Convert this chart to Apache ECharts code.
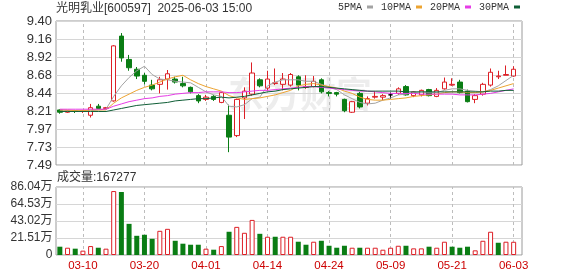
<!DOCTYPE html>
<html>
<head>
<meta charset="utf-8">
<script src="https://cdn.jsdelivr.net/npm/echarts/dist/echarts.min.js"></script>
<style>html,body{margin:0;padding:0;background:#fff}#c{width:578px;height:276px}</style>
</head>
<body>
<div id="c"></div>
<script>
const dates = ['03-05','03-06','03-07','03-10','03-11','03-12','03-13','03-14','03-17','03-18','03-19','03-20','03-21','03-24','03-25','03-26','03-27','03-28','03-31','04-01','04-02','04-03','04-07','04-08','04-09','04-10','04-11','04-14','04-15','04-16','04-17','04-18','04-21','04-22','04-23','04-24','04-25','04-28','04-29','04-30','05-06','05-07','05-08','05-09','05-12','05-13','05-14','05-15','05-16','05-19','05-20','05-21','05-22','05-23','05-26','05-27','05-28','05-29','05-30','06-03'];
const opens  = [8.22,8.19,8.21,8.20,8.15,8.27,8.24,8.34,9.20,8.89,8.76,8.68,8.55,8.56,8.63,8.63,8.57,8.52,8.41,8.36,8.40,8.32,8.15,7.88,8.38,8.43,8.62,8.51,8.57,8.56,8.55,8.66,8.52,8.53,8.62,8.45,8.45,8.36,8.19,8.44,8.31,8.39,8.39,8.42,8.44,8.53,8.41,8.42,8.49,8.40,8.50,8.55,8.59,8.47,8.36,8.43,8.55,8.66,8.68,8.67];
const closes = [8.19,8.21,8.20,8.21,8.25,8.24,8.25,9.07,8.91,8.78,8.67,8.60,8.50,8.62,8.70,8.59,8.54,8.46,8.34,8.39,8.36,8.45,7.86,8.36,8.47,8.71,8.54,8.63,8.58,8.63,8.69,8.55,8.53,8.60,8.46,8.44,8.43,8.21,8.33,8.26,8.37,8.40,8.41,8.42,8.50,8.42,8.46,8.48,8.41,8.48,8.59,8.56,8.45,8.33,8.41,8.56,8.72,8.67,8.69,8.76];
const lows   = [8.17,8.18,8.18,8.18,8.12,8.23,8.23,8.33,8.86,8.74,8.63,8.56,8.48,8.44,8.49,8.57,8.52,8.44,8.31,8.34,8.34,8.31,7.66,7.86,8.10,8.41,8.52,8.48,8.55,8.48,8.53,8.48,8.50,8.52,8.44,8.40,8.40,8.19,8.18,8.24,8.28,8.37,8.35,8.37,8.42,8.41,8.39,8.40,8.40,8.39,8.49,8.54,8.44,8.32,8.31,8.41,8.53,8.63,8.68,8.66];
const highs  = [8.23,8.22,8.22,8.22,8.30,8.30,8.26,9.08,9.24,8.95,8.79,8.71,8.62,8.66,8.75,8.66,8.66,8.53,8.43,8.42,8.42,8.46,8.29,8.37,8.52,8.85,8.64,8.74,8.77,8.71,8.71,8.68,8.68,8.67,8.64,8.47,8.46,8.37,8.34,8.46,8.40,8.47,8.43,8.45,8.52,8.55,8.47,8.49,8.50,8.51,8.65,8.64,8.62,8.49,8.43,8.58,8.77,8.74,8.81,8.80];
const volumes = [105000,92000,80000,55000,113000,92000,80000,809000,797000,394000,243000,256000,205000,306000,331000,180000,143000,130000,130000,80000,67000,113000,294000,356000,281000,444000,268000,231000,231000,231000,231000,168000,130000,168000,180000,117000,92000,117000,92000,92000,92000,92000,67000,92000,117000,117000,84000,84000,105000,92000,168000,105000,92000,105000,59000,180000,294000,155000,168000,167277];
const ma5  = [8.22,8.21,8.21,8.21,8.21,8.22,8.23,8.40,8.54,8.65,8.74,8.80,8.69,8.63,8.62,8.60,8.59,8.58,8.52,8.46,8.42,8.40,8.27,8.26,8.29,8.37,8.39,8.54,8.59,8.62,8.62,8.62,8.60,8.60,8.56,8.52,8.49,8.42,8.37,8.32,8.30,8.31,8.35,8.38,8.42,8.43,8.45,8.46,8.45,8.45,8.48,8.50,8.50,8.48,8.47,8.46,8.49,8.54,8.61,8.68];
const ma10 = [8.22,8.22,8.21,8.21,8.22,8.22,8.22,8.31,8.38,8.43,8.48,8.52,8.55,8.59,8.63,8.66,8.68,8.62,8.57,8.53,8.50,8.47,8.41,8.38,8.36,8.37,8.38,8.40,8.42,8.45,8.48,8.54,8.56,8.57,8.55,8.53,8.51,8.47,8.44,8.39,8.36,8.35,8.35,8.36,8.37,8.38,8.40,8.41,8.42,8.43,8.45,8.46,8.46,8.45,8.45,8.46,8.48,8.51,8.54,8.57];
const ma20 = [8.23,8.23,8.23,8.23,8.23,8.23,8.23,8.27,8.30,8.33,8.35,8.37,8.38,8.40,8.41,8.43,8.44,8.45,8.45,8.46,8.46,8.46,8.45,8.45,8.46,8.47,8.48,8.48,8.49,8.50,8.51,8.52,8.53,8.53,8.52,8.51,8.50,8.49,8.48,8.47,8.47,8.46,8.45,8.44,8.44,8.44,8.44,8.43,8.43,8.43,8.43,8.43,8.42,8.42,8.42,8.43,8.44,8.46,8.48,8.50];
const ma30 = [8.20,8.20,8.20,8.20,8.20,8.20,8.20,8.22,8.24,8.26,8.28,8.29,8.30,8.31,8.32,8.34,8.35,8.36,8.37,8.37,8.38,8.39,8.38,8.39,8.40,8.42,8.44,8.46,8.47,8.49,8.50,8.51,8.52,8.53,8.53,8.52,8.51,8.50,8.49,8.48,8.47,8.47,8.47,8.47,8.47,8.46,8.46,8.46,8.46,8.46,8.46,8.46,8.46,8.46,8.46,8.46,8.47,8.47,8.48,8.48];
const priceTicks = ['7.49','7.73','7.97','8.21','8.44','8.68','8.92','9.16','9.40'];
const volTicks = ['0','21.51万','43.02万','64.53万','86.04万'];
const dateTicks = ['03-10','03-20','04-01','04-14','04-24','05-09','05-21','06-03'];
const maNames = ['5PMA','10PMA','20PMA','30PMA'];

const RED = '#dd1f26', GREEN = '#0a7d14';
const FONT = "'Liberation Sans','Noto Sans CJK SC',sans-serif";

const kData = dates.map((d, i) => {
  const item = { value: [opens[i], closes[i], lows[i], highs[i]] };
  if (opens[i] === closes[i]) item.itemStyle = { color: '#000', color0: '#000', borderColor: '#000', borderColor0: '#000' };
  return item;
});
const volData = volumes.map((v, i) => {
  const up = i === 0 ? closes[i] >= opens[i] : closes[i] >= closes[i - 1];
  return { value: v, itemStyle: up ? { color: '#fff', borderColor: RED, borderWidth: 1 } : { color: GREEN, borderWidth: 0 } };
});
const vLines = {
  symbol: 'none', silent: true, z: 1, animation: false,
  label: { show: false },
  lineStyle: { type: [3, 3], color: '#bdbdbd', width: 1 },
  data: dateTicks.map(t => ({ xAxis: t }))
};

const chart = echarts.init(document.getElementById('c'), null, { renderer: 'canvas' });
chart.setOption({
  animation: false,
  backgroundColor: '#fff',
  title: [
    { text: '光明乳业[600597]  2025-06-03 15:00', left: 56, top: 2.5, padding: 0,
      textStyle: { fontSize: 12, fontWeight: 'normal', color: '#333', fontFamily: FONT } },
    { text: '成交量:' + volumes[volumes.length - 1], left: 57, top: 171.5, padding: 0,
      textStyle: { fontSize: 12, fontWeight: 'normal', color: '#333', fontFamily: FONT } }
  ],
  legend: {
    data: maNames, left: 338, top: 2, padding: 0, align: 'right', icon: 'rect',
    itemWidth: 6, itemHeight: 3, itemGap: 8, selectedMode: false,
    textStyle: { fontFamily: "'Liberation Mono',monospace", fontSize: 10, color: '#333' }
  },
  graphic: [{
    type: 'text', left: 228, top: 76, z: -1, silent: true,
    style: { text: '东方财富', fill: 'rgba(0,0,0,0.07)', font: "bold 36px 'Noto Sans CJK SC'" }
  }],
  grid: [
    { left: 56, top: 21, width: 461.5, height: 144 },
    { left: 56, top: 187, width: 461.5, height: 68 },
    { left: 56, top: 21, width: 466, height: 144, show: true, borderColor: '#9a9a9a', borderWidth: 1, backgroundColor: 'transparent' },
    { left: 56, top: 187, width: 466, height: 68, show: true, borderColor: '#9a9a9a', borderWidth: 1, backgroundColor: 'transparent' }
  ],
  xAxis: [
    { type: 'category', gridIndex: 0, data: dates, boundaryGap: true, axisLine: { show: false }, axisTick: { show: false }, axisLabel: { show: false }, splitLine: { show: false } },
    { type: 'category', gridIndex: 1, data: dates, boundaryGap: true, axisLine: { show: false }, axisTick: { show: false }, splitLine: { show: false },
      axisLabel: { interval: (i, v) => dateTicks.includes(v), color: '#cc0000', fontSize: 11.5, fontFamily: FONT, margin: 5 } },
    { type: 'value', gridIndex: 2, min: 0, max: 1, show: false },
    { type: 'value', gridIndex: 3, min: 0, max: 1, show: false }
  ],
  yAxis: [
    { type: 'value', gridIndex: 0, min: 7.49, max: 9.40, show: false, splitLine: { show: false } },
    { type: 'value', gridIndex: 1, min: 0, max: 860400, show: false, splitLine: { show: false } },
    { type: 'value', gridIndex: 2, min: 0, max: priceTicks.length - 1, interval: 1,
      axisLine: { show: false }, axisTick: { show: false },
      splitLine: { lineStyle: { color: '#d6d6d6', width: 1 } },
      axisLabel: { formatter: v => priceTicks[v], color: '#333', fontSize: 13, fontFamily: FONT, margin: 4 } },
    { type: 'value', gridIndex: 3, min: 0, max: volTicks.length - 1, interval: 1,
      axisLine: { show: false }, axisTick: { show: false },
      splitLine: { lineStyle: { color: '#d6d6d6', width: 1 } },
      axisLabel: { formatter: v => volTicks[v], color: '#333', fontSize: 12, fontFamily: FONT, margin: 3.5 } }
  ],
  series: [
    { type: 'candlestick', name: 'K', xAxisIndex: 0, yAxisIndex: 0, data: kData, barWidth: 5,
      itemStyle: { color: '#fff', color0: GREEN, borderColor: RED, borderColor0: GREEN, borderWidth: 1 },
      markLine: vLines },
    { type: 'line', name: maNames[0], xAxisIndex: 0, yAxisIndex: 0, data: ma5, showSymbol: false, symbol: 'none', color: '#a3a3a3', lineStyle: { width: 1, color: '#a3a3a3' }, z: 3 },
    { type: 'line', name: maNames[1], xAxisIndex: 0, yAxisIndex: 0, data: ma10, showSymbol: false, symbol: 'none', color: '#eda431', lineStyle: { width: 1, color: '#eda431' }, z: 3 },
    { type: 'line', name: maNames[2], xAxisIndex: 0, yAxisIndex: 0, data: ma20, showSymbol: false, symbol: 'none', color: '#e63ce6', lineStyle: { width: 1, color: '#e63ce6' }, z: 3 },
    { type: 'line', name: maNames[3], xAxisIndex: 0, yAxisIndex: 0, data: ma30, showSymbol: false, symbol: 'none', color: '#0f5e36', lineStyle: { width: 1, color: '#0f5e36' }, z: 3 },
    { type: 'bar', name: '成交量', xAxisIndex: 1, yAxisIndex: 1, data: volData, barWidth: 5, markLine: vLines }
  ]
});
</script>
</body>
</html>
